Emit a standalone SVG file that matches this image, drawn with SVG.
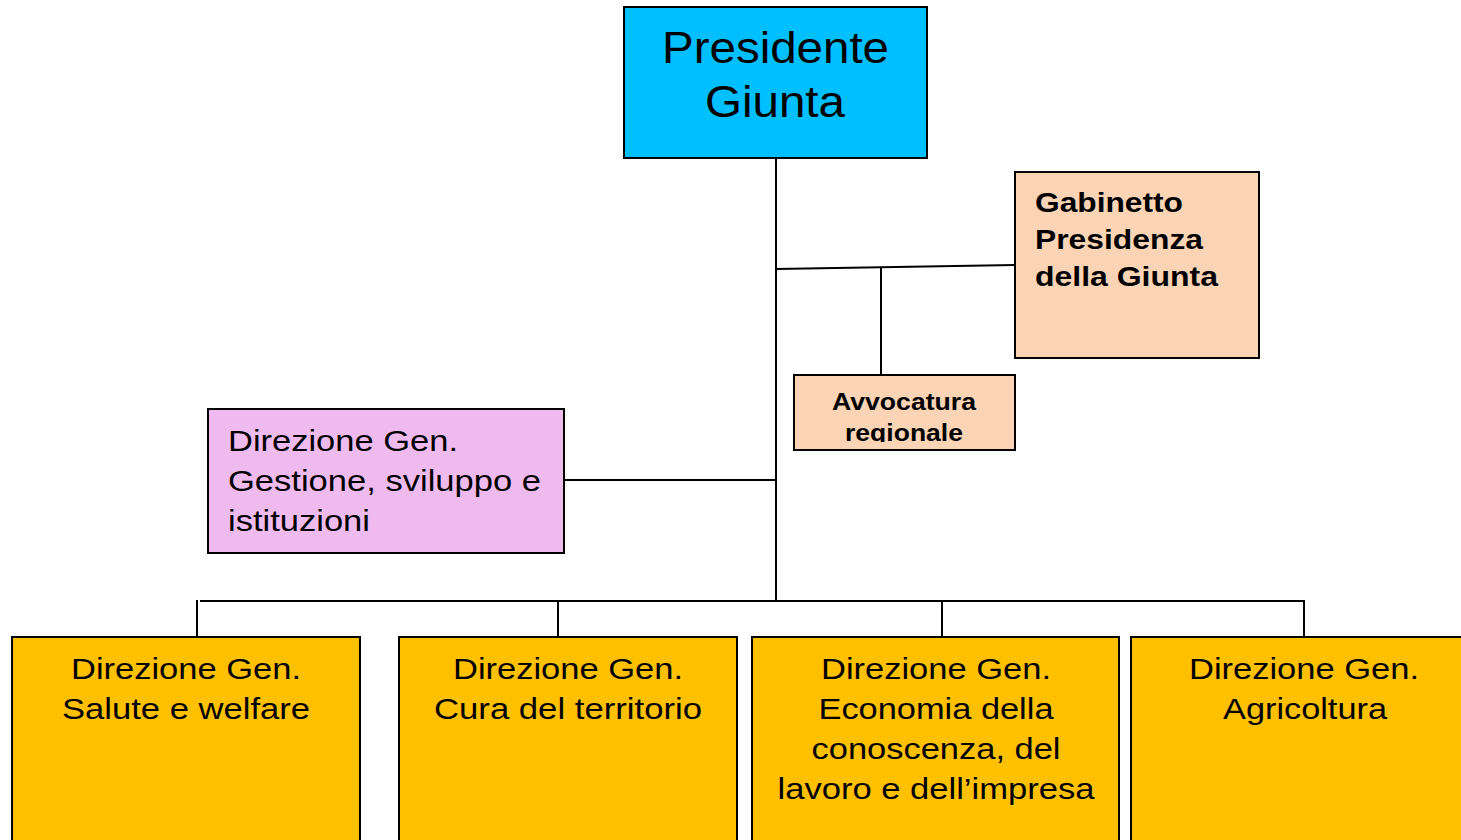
<svg xmlns="http://www.w3.org/2000/svg" width="1461" height="840" viewBox="0 0 1461 840">
<style>
.box{stroke:#000;stroke-width:2}
.ln{stroke:#000;stroke-width:2;fill:none}
.t{font-family:"Liberation Sans",Arial,sans-serif;fill:#000}
.b{font-weight:bold}
.dg{font-size:30px;text-anchor:middle}
</style>
<defs>
<clipPath id="avvClip"><rect x="795" y="376" width="219" height="66"/></clipPath>
</defs>
<rect width="1461" height="840" fill="#fff"/>
<g id="connectors">
<line class="ln" x1="776" y1="158" x2="776" y2="601"/>
<line class="ln" x1="776" y1="269" x2="1015" y2="265"/>
<line class="ln" x1="881" y1="267" x2="881" y2="375"/>
<line class="ln" x1="564" y1="480" x2="776" y2="480"/>
<line class="ln" x1="200" y1="601" x2="1305" y2="601"/>
<line class="ln" x1="197" y1="600" x2="197" y2="637"/>
<line class="ln" x1="558" y1="601" x2="558" y2="637"/>
<line class="ln" x1="942" y1="601" x2="942" y2="637"/>
<line class="ln" x1="1304" y1="601" x2="1304" y2="637"/>
</g>
<g id="presidente">
<rect class="box" x="624" y="7" width="303" height="151" fill="#00BFFF"/>
<text class="t" x="775.5" y="63" font-size="44" text-anchor="middle" textLength="227" lengthAdjust="spacingAndGlyphs">Presidente</text>
<text class="t" x="775" y="117" font-size="44" text-anchor="middle" textLength="140" lengthAdjust="spacingAndGlyphs">Giunta</text>
</g>
<g id="gabinetto">
<rect class="box" x="1015" y="172" width="244" height="186" fill="#FAD4B4"/>
<text class="t b" x="1035" y="212" font-size="28" textLength="148" lengthAdjust="spacingAndGlyphs">Gabinetto</text>
<text class="t b" x="1035" y="249" font-size="28" textLength="168" lengthAdjust="spacingAndGlyphs">Presidenza</text>
<text class="t b" x="1035" y="286" font-size="28" textLength="183" lengthAdjust="spacingAndGlyphs">della Giunta</text>
</g>
<g id="avvocatura">
<rect class="box" x="794" y="375" width="221" height="75" fill="#FAD4B4"/>
<g clip-path="url(#avvClip)">
<text class="t b" x="904" y="410" font-size="24" text-anchor="middle" textLength="144" lengthAdjust="spacingAndGlyphs">Avvocatura</text>
<text class="t b" x="904" y="441" font-size="24" text-anchor="middle" textLength="118" lengthAdjust="spacingAndGlyphs">regionale</text>
</g>
</g>
<g id="dg-gestione">
<rect class="box" x="208" y="409" width="356" height="144" fill="#EFBBEF"/>
<text class="t" x="228" y="451" font-size="30" textLength="230" lengthAdjust="spacingAndGlyphs">Direzione Gen.</text>
<text class="t" x="228" y="491" font-size="30" textLength="313" lengthAdjust="spacingAndGlyphs">Gestione, sviluppo e</text>
<text class="t" x="228" y="531" font-size="30" textLength="142" lengthAdjust="spacingAndGlyphs">istituzioni</text>
</g>
<g id="dg-salute">
<rect class="box" x="12" y="637" width="348" height="215" fill="#FFC000"/>
<text class="t dg" x="186" y="679" textLength="230" lengthAdjust="spacingAndGlyphs">Direzione Gen.</text>
<text class="t dg" x="186" y="719" textLength="248" lengthAdjust="spacingAndGlyphs">Salute e welfare</text>
</g>
<g id="dg-territorio">
<rect class="box" x="399" y="637" width="338" height="215" fill="#FFC000"/>
<text class="t dg" x="568" y="679" textLength="230" lengthAdjust="spacingAndGlyphs">Direzione Gen.</text>
<text class="t dg" x="568" y="719" textLength="268" lengthAdjust="spacingAndGlyphs">Cura del territorio</text>
</g>
<g id="dg-economia">
<rect class="box" x="752" y="637" width="367" height="215" fill="#FFC000"/>
<text class="t dg" x="936" y="679" textLength="230" lengthAdjust="spacingAndGlyphs">Direzione Gen.</text>
<text class="t dg" x="936" y="719" textLength="235" lengthAdjust="spacingAndGlyphs">Economia della</text>
<text class="t dg" x="936" y="759" textLength="249" lengthAdjust="spacingAndGlyphs">conoscenza, del</text>
<text class="t dg" x="936" y="799" textLength="317" lengthAdjust="spacingAndGlyphs">lavoro e dell’impresa</text>
</g>
<g id="dg-agricoltura">
<rect class="box" x="1131" y="637" width="340" height="215" fill="#FFC000"/>
<text class="t dg" x="1304" y="679" textLength="230" lengthAdjust="spacingAndGlyphs">Direzione Gen.</text>
<text class="t dg" x="1305" y="719" textLength="164" lengthAdjust="spacingAndGlyphs">Agricoltura</text>
</g>
</svg>
